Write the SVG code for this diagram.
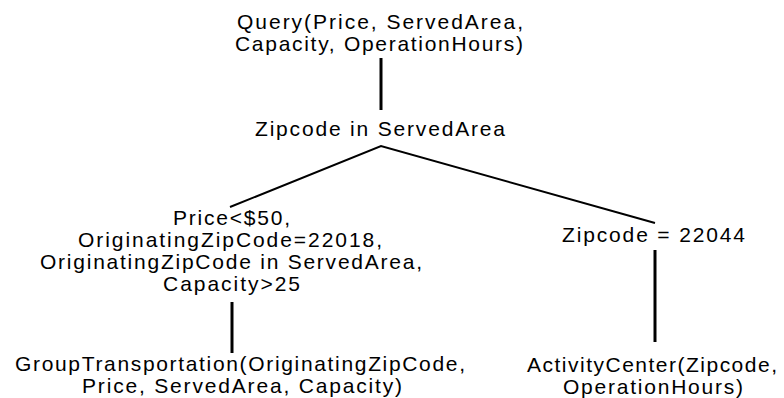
<svg xmlns="http://www.w3.org/2000/svg" width="784" height="398" viewBox="0 0 784 398">
<style>
text{font-family:"Liberation Sans",Arial,sans-serif;font-size:21px;fill:#000}
.e{stroke:#000;fill:none;stroke-linecap:butt}
.v{stroke-width:3}
.d{stroke-width:2}
</style>
<rect width="784" height="398" fill="#fff"/>
<g id="connectors">
<line class="e v" x1="381" y1="58" x2="381" y2="110"/>
<polyline class="e d" points="230,207 381,146 655,223"/>
<line class="e v" x1="232" y1="302" x2="232" y2="353"/>
<line class="e v" x1="655" y1="250" x2="655" y2="342"/>
</g>
<g id="query">
<text x="237" y="29" textLength="286" lengthAdjust="spacing">Query(Price, ServedArea,</text>
<text x="235" y="51" textLength="288" lengthAdjust="spacing">Capacity, OperationHours)</text>
</g>
<g id="zipcode-in-servedarea">
<text x="255" y="136" textLength="250" lengthAdjust="spacing">Zipcode in ServedArea</text>
</g>
<g id="price-conditions">
<text x="173" y="225" textLength="117" lengthAdjust="spacing">Price&lt;$50,</text>
<text x="78" y="247" textLength="304" lengthAdjust="spacing">OriginatingZipCode=22018,</text>
<text x="40" y="269" textLength="382" lengthAdjust="spacing">OriginatingZipCode in ServedArea,</text>
<text x="163" y="291" textLength="137" lengthAdjust="spacing">Capacity&gt;25</text>
</g>
<g id="group-transportation">
<text x="15" y="371" textLength="450" lengthAdjust="spacing">GroupTransportation(OriginatingZipCode,</text>
<text x="82" y="393" textLength="320" lengthAdjust="spacing">Price, ServedArea, Capacity)</text>
</g>
<g id="zipcode-22044">
<text x="562" y="242" textLength="183" lengthAdjust="spacing">Zipcode = 22044</text>
</g>
<g id="activity-center">
<text x="527" y="372" textLength="250" lengthAdjust="spacing">ActivityCenter(Zipcode,</text>
<text x="563" y="394" textLength="180" lengthAdjust="spacing">OperationHours)</text>
</g>
</svg>
